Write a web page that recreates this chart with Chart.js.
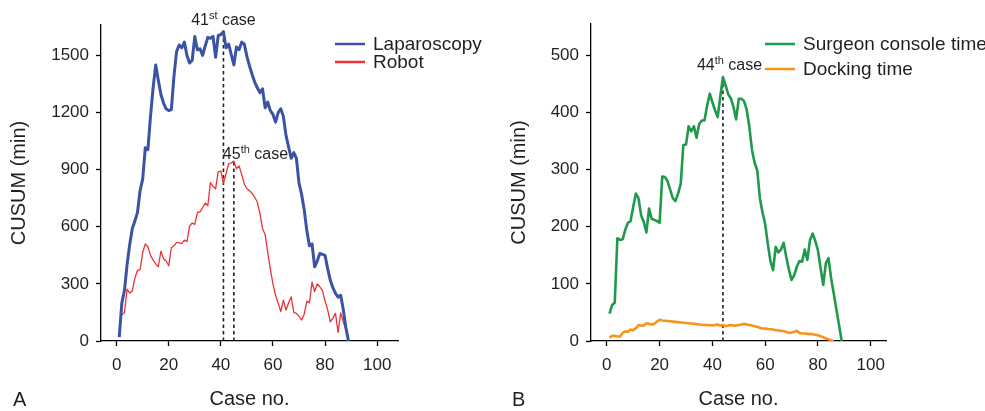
<!DOCTYPE html>
<html>
<head>
<meta charset="utf-8">
<script src="https://cdn.jsdelivr.net/npm/chart.js@4.4.1/dist/chart.umd.min.js"></script>
<style>
  html, body { margin: 0; padding: 0; background: #fff; }
  #wrap { position: relative; width: 985px; height: 411px; }
  #panelA { position: absolute; left: 0; top: 0; }
  #panelB { position: absolute; left: 490px; top: 0; }
</style>
</head>
<body>
<div id="wrap">
  <canvas id="panelA" width="490" height="411"></canvas>
  <canvas id="panelB" width="495" height="411"></canvas>
</div>
<script>
// CUSUM of operative time, case 1..89
const lapCusum = [
  20, 200, 265, 400, 505, 590, 630, 675, 790, 850,
  1015, 1005, 1180, 1330, 1450, 1370, 1295, 1250, 1220, 1210,
  1215, 1390, 1520, 1555, 1540, 1570, 1500, 1460, 1475, 1600,
  1530, 1535, 1500, 1550, 1595, 1590, 1600, 1490, 1605, 1610,
  1625, 1540, 1560, 1505, 1450, 1545, 1530, 1570, 1560, 1495,
  1445, 1400, 1360, 1330, 1305, 1325, 1225, 1255, 1210, 1190,
  1150, 1200, 1220, 1180, 1080, 1020, 960, 990, 960, 830,
  770, 690, 580, 500, 510, 390, 420, 460, 455, 450,
  380, 320, 280, 250, 230, 240, 165, 70, 0
];
// robot series has no point for case 1
const robotCusum = [
  null, 136, 150, 272, 252, 262, 330, 370, 375, 465,
  510, 495, 450, 425, 405, 390, 472, 432, 420, 395,
  490, 500, 518, 515, 512, 530, 522, 603, 620, 613,
  675, 678, 700, 725, 712, 832, 812, 800, 888, 893,
  830, 880, 930, 935, 945, 905, 920, 875, 825, 800,
  790, 775, 755, 730, 670, 590, 560, 465, 378, 300,
  240, 200, 155, 215, 163, 200, 232, 150, 145, 130,
  110, 140, 210, 200, 310, 260, 300, 285, 265, 210,
  165, 100, 120, 145, 45, 148, 100, 60, 0
];
const consoleCusum = [
  48, 63, 67, 180, 177, 178, 195, 207, 210, 235,
  258, 250, 220, 208, 190, 232, 214, 212, 210, 207,
  288, 287, 280, 265, 250, 245, 258, 275, 343, 344,
  376, 367, 376, 356, 380, 386, 386, 412, 433, 418,
  404, 392, 428, 462, 448, 432, 425, 410, 388, 424,
  424, 420, 405, 375, 335, 312, 299, 250, 225, 205,
  170, 140, 124, 165, 155, 160, 172, 147, 125, 107,
  115, 130, 140, 139, 160, 142, 177, 188, 175, 159,
  128, 98, 136, 145, 110, 83, 55, 28, 0
];
const dockingCusum = [
  6, 9, 9, 8, 8, 14, 17, 16, 20, 19,
  22, 28, 27, 27, 31, 30, 29, 30, 34, 37,
  36, 35.5, 35, 34.5, 34, 33.5, 33, 32.5, 32, 31.5,
  31, 30.5, 30, 29.5, 29, 28.5, 28, 28, 27.5, 27,
  28, 29, 27, 28, 26, 27, 28, 27, 27, 28,
  29, 30, 29, 28, 27, 26, 25, 23, 22, 22,
  21, 20.5, 20, 19, 18.5, 18, 17, 16, 14, 15,
  16, 18, 14, 13, 13, 12.5, 12, 12, 11, 10,
  8.5, 6.5, 4.5, 3, 1.5, 0
];
const xTicks = [0, 20, 40, 60, 80, 100];
const yTicksA = [0, 300, 600, 900, 1200, 1500];
const yTicksB = [0, 100, 200, 300, 400, 500];
const lapPeakCase = 41;
const robotPeakCase = 45;
const consolePeakCase = 44;

const FONT = '"Liberation Sans", Arial, Helvetica, sans-serif';
const INK = '#231f20';

function toPoints(arr) {
  return arr.map((v, i) => ({ x: i + 1, y: v })).filter(p => p.y !== null);
}
function peakLine(caseNo, arr) {
  return {
    label: '', data: [{ x: caseNo, y: 0 }, { x: caseNo, y: arr[caseNo - 1] }],
    borderColor: '#222', borderWidth: 1.6, borderDash: [3.5, 3],
    pointRadius: 0, tension: 0
  };
}
function series(label, arr, color, width) {
  return {
    label, data: toPoints(arr), borderColor: color, borderWidth: width,
    pointRadius: 0, tension: 0, borderJoinStyle: 'round', fill: false
  };
}

// superscript note like "41st case"
function drawNote(ctx, x, y, num, sup, align) {
  ctx.font = '16px ' + FONT;
  const w1 = ctx.measureText(num).width;
  const w3 = ctx.measureText(' case').width;
  ctx.font = '11px ' + FONT;
  const w2 = ctx.measureText(sup).width;
  const total = w1 + w2 + w3;
  let left = x;
  if (align === 'center') left = x - total / 2;
  ctx.fillStyle = INK;
  ctx.textBaseline = 'alphabetic';
  ctx.textAlign = 'left';
  ctx.font = '16px ' + FONT;
  ctx.fillText(num, left, y);
  ctx.font = '11px ' + FONT;
  ctx.fillText(sup, left + w1, y - 6);
  ctx.font = '16px ' + FONT;
  ctx.fillText(' case', left + w1 + w2, y);
}

const sketchPlugin = {
  id: 'sketch',
  afterDraw(chart, args, opts) {
    const ctx = chart.ctx;
    ctx.save();
    opts.legend.forEach(item => {
      const ds = chart.data.datasets[item.ds];
      ctx.strokeStyle = ds.borderColor;
      ctx.lineWidth = 2.5;
      ctx.beginPath();
      ctx.moveTo(item.x, item.y);
      ctx.lineTo(item.x + 30, item.y);
      ctx.stroke();
      ctx.fillStyle = INK;
      ctx.font = '19px ' + FONT;
      ctx.textBaseline = 'middle';
      ctx.textAlign = 'left';
      ctx.fillText(ds.label, item.x + 38, item.y + 1);
    });
    const xs = chart.scales.x;
    opts.notes.forEach(n => {
      drawNote(ctx, xs.getPixelForValue(n.caseNo) + n.dx, n.y, n.num, n.sup, n.align);
    });
    ctx.fillStyle = INK;
    ctx.font = '20px ' + FONT;
    ctx.textAlign = 'left';
    ctx.textBaseline = 'middle';
    ctx.fillText(opts.letter, opts.letterX, 400);
    ctx.restore();
  }
};

function axes(xMax, yMax, yTicks, yTitlePad) {
  const tickFont = { family: FONT, size: 17 };
  const common = {
    border: { color: '#000', width: 1.3 },
    grid: { drawOnChartArea: false, drawTicks: true, tickLength: 5, color: '#000', tickWidth: 1.3 },
  };
  return {
    x: Object.assign({}, common, {
      type: 'linear', min: -6, max: xMax,
      afterBuildTicks: s => { s.ticks = xTicks.map(v => ({ value: v })); },
      afterFit: s => { s.height = 70; },
      ticks: { font: tickFont, color: INK, padding: 9, callback: v => String(v) },
      title: { display: true, text: 'Case no.', font: { family: FONT, size: 20 }, color: INK, padding: { top: 0, bottom: 0 } }
    }),
    y: Object.assign({}, common, {
      type: 'linear', min: 0, max: yMax,
      afterBuildTicks: s => { s.ticks = yTicks.map(v => ({ value: v })); },
      afterFit: s => { s.width = 101; },
      ticks: { font: tickFont, color: INK, padding: 7, callback: v => String(v) },
      title: { display: true, text: 'CUSUM (min)', font: { family: FONT, size: 20 }, color: INK, padding: { top: yTitlePad, bottom: 0 } }
    })
  };
}

new Chart(document.getElementById('panelA'), {
  type: 'line',
  data: {
    datasets: [
      series('Laparoscopy', lapCusum, '#3a53a4', 3),
      series('Robot', robotCusum, '#ed3237', 1.3),
      peakLine(lapPeakCase, lapCusum),
      peakLine(robotPeakCase, robotCusum)
    ]
  },
  options: {
    responsive: false, animation: false,
    layout: { padding: { left: 0, top: 25, right: 92, bottom: 0 } },
    scales: axes(108, 1660, yTicksA, 7),
    plugins: {
      legend: { display: false }, tooltip: { enabled: false },
      sketch: {
        legend: [{ ds: 0, x: 335, y: 44 }, { ds: 1, x: 335, y: 62 }],
        notes: [
          { caseNo: lapPeakCase, dx: 0, y: 25, num: '41', sup: 'st', align: 'center' },
          { caseNo: robotPeakCase, dx: -11, y: 159, num: '45', sup: 'th', align: 'left' }
        ],
        letter: 'A', letterX: 13
      }
    }
  },
  plugins: [sketchPlugin]
});

new Chart(document.getElementById('panelB'), {
  type: 'line',
  data: {
    datasets: [
      series('Surgeon console time', consoleCusum, '#1f9a4b', 2.6),
      series('Docking time', dockingCusum, '#f7941d', 2.6),
      peakLine(consolePeakCase, consoleCusum)
    ]
  },
  options: {
    responsive: false, animation: false,
    layout: { padding: { left: 0, top: 24, right: 99, bottom: 0 } },
    scales: axes(105.8, 555, yTicksB, 17),
    plugins: {
      legend: { display: false }, tooltip: { enabled: false },
      sketch: {
        legend: [{ ds: 0, x: 275, y: 44 }, { ds: 1, x: 275, y: 69 }],
        notes: [
          { caseNo: consolePeakCase, dx: -26, y: 70, num: '44', sup: 'th', align: 'left' }
        ],
        letter: 'B', letterX: 22
      }
    }
  },
  plugins: [sketchPlugin]
});
</script>
</body>
</html>
